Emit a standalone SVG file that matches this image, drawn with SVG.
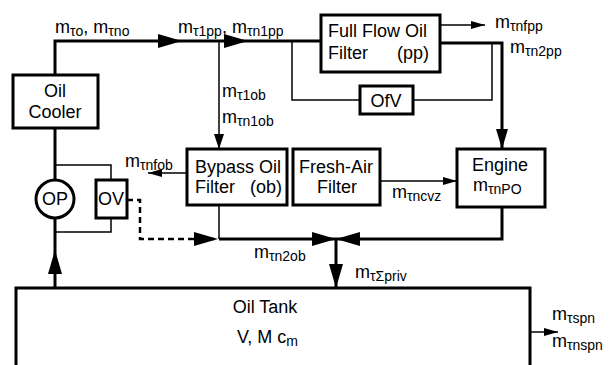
<svg xmlns="http://www.w3.org/2000/svg" width="611" height="365" viewBox="0 0 611 365">
<style>
text{font-family:"Liberation Sans",Arial,sans-serif;font-size:18px;fill:#000}
.s{font-size:14px}
.box{fill:#fff;stroke:#000;stroke-width:3}
.thick{fill:none;stroke:#000;stroke-width:3}
.thin{fill:none;stroke:#000;stroke-width:1.5}
.dash{fill:none;stroke:#000;stroke-width:2.5;stroke-dasharray:6,4}
.c{text-anchor:middle}
</style>
<defs>
<marker id="big" markerUnits="userSpaceOnUse" markerWidth="24" markerHeight="14" refX="24" refY="7" orient="auto"><path d="M0,0 L24,7 L0,14 z" fill="#000"/></marker>
<marker id="med" markerUnits="userSpaceOnUse" markerWidth="20" markerHeight="12" refX="20" refY="6" orient="auto"><path d="M0,0 L20,6 L0,12 z" fill="#000"/></marker>
<marker id="sm" markerUnits="userSpaceOnUse" markerWidth="15" markerHeight="10" refX="15" refY="5" orient="auto"><path d="M0,0 L15,5 L0,10 z" fill="#000"/></marker>
<marker id="xs" markerUnits="userSpaceOnUse" markerWidth="14" markerHeight="8" refX="14" refY="4" orient="auto"><path d="M0,0 L14,4 L0,8 z" fill="#000"/></marker>
</defs>

<g id="connectors">
<path class="thick" d="M55,75 V41 H182" marker-end="url(#big)"/>
<path class="thick" d="M182,41 H248" marker-end="url(#big)"/>
<path class="thick" d="M248,41 H321"/>
<path class="thin" d="M219,41 V149" marker-end="url(#sm)"/>
<path class="thin" d="M292,41 V100 H360"/>
<path class="thin" d="M413,100 H492 V43"/>
<path class="thin" d="M440,25 H485" marker-end="url(#xs)"/>
<path class="thick" d="M440,43 H502 V149" marker-end="url(#med)"/>
<path class="thin" d="M380,181 H457" marker-end="url(#xs)"/>
<path class="thin" d="M187,173 H148" marker-end="url(#xs)"/>
<path class="thin" d="M219,205 V239"/>
<path class="thick" d="M219,239 H336" marker-end="url(#big)"/>
<path class="thick" d="M502,208 V239 H336" marker-end="url(#big)"/>
<path class="thick" d="M336,239 V288" marker-end="url(#big)"/>
<path class="dash" d="M127,200 H140 V239 H218" marker-end="url(#big)"/>
<path class="thick" d="M55,128 V180"/>
<path class="thick" d="M55,288 V250" marker-end="url(#big)"/>
<path class="thick" d="M55,250 V218"/>
<path class="thin" d="M55,165 H111 V180"/>
<path class="thin" d="M111,218 V232 H55"/>
<path class="thin" d="M530,332 H558" marker-end="url(#xs)"/>
</g>

<g id="tank">
<path class="thick" d="M16,370 V288 H530 V370"/>
<text class="c" x="265" y="313">Oil Tank</text>
<text x="237" y="343">V, M c<tspan class="s" dy="3">m</tspan></text>
</g>

<g id="cooler">
<rect class="box" x="13" y="75" width="85" height="53"/>
<text class="c" x="55" y="97">Oil</text>
<text class="c" x="55" y="118">Cooler</text>
</g>

<g id="fullflow">
<rect class="box" x="321" y="15" width="119" height="57"/>
<text x="328" y="37">Full Flow Oil</text>
<text x="328" y="59">Filter</text>
<text x="397" y="59">(pp)</text>
</g>

<g id="ofv">
<rect class="box" x="360" y="86" width="53" height="28"/>
<text class="c" x="386" y="107">OfV</text>
</g>

<g id="bypass">
<rect class="box" x="187" y="149" width="100" height="56"/>
<text x="195" y="173">Bypass Oil</text>
<text x="195" y="193">Filter</text>
<text x="250" y="193">(ob)</text>
</g>

<g id="freshair">
<rect class="box" x="293" y="149" width="87" height="56"/>
<text class="c" x="336" y="173">Fresh-Air</text>
<text class="c" x="337" y="193">Filter</text>
</g>

<g id="engine">
<rect class="box" x="457" y="149" width="88" height="58"/>
<text class="c" x="500" y="171">Engine</text>
<text x="473" y="191">m<tspan class="s" dy="3">τnPO</tspan></text>
</g>

<g id="op">
<circle cx="55" cy="199" r="19" fill="#fff" stroke="#000" stroke-width="3"/>
<text class="c" x="55" y="205">OP</text>
</g>

<g id="ov">
<rect class="box" x="96" y="180" width="31" height="38"/>
<text class="c" x="111" y="205">OV</text>
</g>

<g id="labels">
<text x="55" y="33">m<tspan class="s" dy="3">τo</tspan><tspan dy="-3">, m</tspan><tspan class="s" dy="3">τno</tspan></text>
<text x="178" y="33">m<tspan class="s" dy="3">τ1pp</tspan><tspan dy="-3">, m</tspan><tspan class="s" dy="3">τn1pp</tspan></text>
<text x="222" y="97">m<tspan class="s" dy="3">τ1ob</tspan></text>
<text x="222" y="123">m<tspan class="s" dy="3">τn1ob</tspan></text>
<text x="495" y="28">m<tspan class="s" dy="3">τnfpp</tspan></text>
<text x="510" y="53">m<tspan class="s" dy="3">τn2pp</tspan></text>
<text x="125" y="167">m<tspan class="s" dy="3">τnfob</tspan></text>
<text x="392" y="198">m<tspan class="s" dy="3">τncvz</tspan></text>
<text x="254" y="258">m<tspan class="s" dy="3">τn2ob</tspan></text>
<text x="355" y="278">m<tspan class="s" dy="3">τΣpriv</tspan></text>
<text x="552" y="320">m<tspan class="s" dy="3">τspn</tspan></text>
<text x="552" y="347">m<tspan class="s" dy="3">τnspn</tspan></text>
</g>
</svg>
